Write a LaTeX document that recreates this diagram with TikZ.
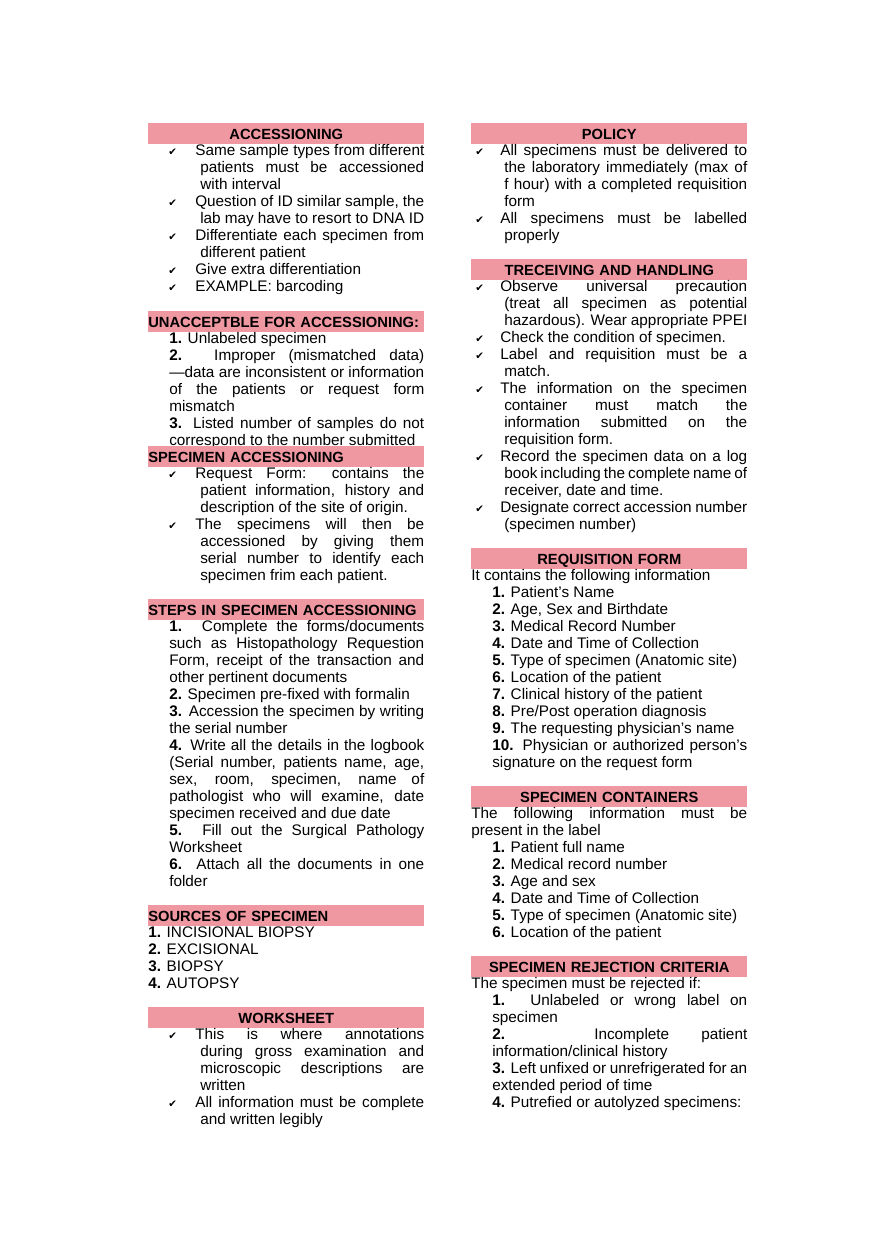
\documentclass[tikz,border=0pt]{standalone}
\usepackage{fontspec}
\setmainfont{Liberation Sans}
\newfontfamily\symfont{DejaVu Sans}
\usetikzlibrary{positioning}
\newdimen\pxu \pxu=0.023864cm
\definecolor{barpink}{RGB}{240,152,162}
% check mark items, left and right column
\newcommand\ckL[1]{\noindent\hangindent=52\pxu\hangafter=1\hspace*{20\pxu}\makebox[27\pxu][l]{\symfont\scriptsize ✔}#1\par}
\newcommand\ckR[1]{\noindent\hangindent=33\pxu\hangafter=1\hspace*{4\pxu}\makebox[25\pxu][l]{\symfont\scriptsize ✔}#1\par}
% numbered items
\newcommand\numit[2]{\noindent\hangindent=21\pxu\hangafter=0\textbf{#1} #2\par}
\newcommand\plain[1]{\noindent #1\par}
\newcommand\bodyset{\fontsize{10.4pt}{17\pxu}\selectfont\tolerance=9999\emergencystretch=2em\hyphenpenalty=10000\exhyphenpenalty=10000\relax}
\tikzset{
  bar/.style={fill=barpink, inner sep=0pt, minimum height=17\pxu, text width=276\pxu,
    anchor=north west, font=\bfseries, text height=11pt, text depth=3pt},
  body/.style={anchor=north west, inner sep=0pt, text width=276\pxu, align=justify},
}
\begin{document}
\begin{tikzpicture}[x=0.023864cm, y=-0.023864cm]
\useasboundingbox[fill=white] (0,0) rectangle (880,1245);

% left column
\node[bar, align=center] (hAcc) at (148,123) {ACCESSIONING};
\node[body] (bAcc) at (hAcc.south west) {\bodyset
  \ckL{Same sample types from different patients must be accessioned with interval}
  \ckL{Question of ID similar sample, the lab may have to resort to DNA ID}
  \ckL{Differentiate each specimen from different patient}
  \ckL{Give extra differentiation}
  \ckL{EXAMPLE: barcoding}};

\node[bar, align=left] (hUna) at (148,311) {UNACCEPTBLE FOR ACCESSIONING:};
\node[body] (bUna) at (hUna.south west) {\bodyset
  \numit{1.}{Unlabeled specimen}
  \numit{2.}{Improper (mismatched data) —data are inconsistent or information of the patients or request form mismatch}
  \numit{3.}{Listed number of samples do not correspond to the number submitted}};

\node[bar, align=left] (hSpa) at (148,446) {SPECIMEN ACCESSIONING};
\node[body] (bSpa) at (hSpa.south west) {\bodyset
  \ckL{Request Form: contains the patient information, history and description of the site of origin.}
  \ckL{The specimens will then be accessioned by giving them serial number to identify each specimen frim each patient.}};

\node[bar, align=left] (hSteps) at (148,599) {STEPS IN SPECIMEN ACCESSIONING};
\node[body] (bSteps) at (hSteps.south west) {\bodyset
  \numit{1.}{Complete the forms/documents such as Histopathology Requestion Form, receipt of the transaction and other pertinent documents}
  \numit{2.}{Specimen pre-fixed with formalin}
  \numit{3.}{Accession the specimen by writing the serial number}
  \numit{4.}{Write all the details in the logbook (Serial number, patients name, age, sex, room, specimen, name of pathologist who will examine, date specimen received and due date}
  \numit{5.}{Fill out the Surgical Pathology Worksheet}
  \numit{6.}{Attach all the documents in one folder}};

\node[bar, align=left] (hSrc) at (148,905) {SOURCES OF SPECIMEN};
\node[body] (bSrc) at (hSrc.south west) {\bodyset
  \plain{\textbf{1.} INCISIONAL BIOPSY}
  \plain{\textbf{2.} EXCISIONAL}
  \plain{\textbf{3.} BIOPSY}
  \plain{\textbf{4.} AUTOPSY}};

\node[bar, align=center] (hWork) at (148,1007) {WORKSHEET};
\node[body] (bWork) at (hWork.south west) {\bodyset
  \ckL{This is where annotations during gross examination and microscopic descriptions are written}
  \ckL{All information must be complete and written legibly}};

% right column
\node[bar, align=center] (hPol) at (471,123) {POLICY};
\node[body] (bPol) at (hPol.south west) {\bodyset
  \ckR{All specimens must be delivered to the laboratory immediately (max of f hour) with a completed requisition form}
  \ckR{All specimens must be labelled properly}};

\node[bar, align=center] (hRec) at (471,259) {TRECEIVING AND HANDLING};
\node[body] (bRec) at (hRec.south west) {\bodyset
  \ckR{Observe universal precaution (treat all specimen as potential hazardous). Wear appropriate PPEI}
  \ckR{Check the condition of specimen.}
  \ckR{Label and requisition must be a match.}
  \ckR{The information on the specimen container must match the information submitted on the requisition form.}
  \ckR{Record the specimen data on a log book including the complete name of receiver, date and time.}
  \ckR{Designate correct accession number (specimen number)}};

\node[bar, align=center] (hReq) at (471,548) {REQUISITION FORM};
\node[body] (bReq) at (hReq.south west) {\bodyset
  \plain{It contains the following information}
  \numit{1.}{Patient's Name}
  \numit{2.}{Age, Sex and Birthdate}
  \numit{3.}{Medical Record Number}
  \numit{4.}{Date and Time of Collection}
  \numit{5.}{Type of specimen (Anatomic site)}
  \numit{6.}{Location of the patient}
  \numit{7.}{Clinical history of the patient}
  \numit{8.}{Pre/Post operation diagnosis}
  \numit{9.}{The requesting physician's name}
  \numit{10.}{Physician or authorized person's signature on the request form}};

\node[bar, align=center] (hCon) at (471,786) {SPECIMEN CONTAINERS};
\node[body] (bCon) at (hCon.south west) {\bodyset
  \plain{The following information must be present in the label}
  \numit{1.}{Patient full name}
  \numit{2.}{Medical record number}
  \numit{3.}{Age and sex}
  \numit{4.}{Date and Time of Collection}
  \numit{5.}{Type of specimen (Anatomic site)}
  \numit{6.}{Location of the patient}};

\node[bar, align=center] (hRej) at (471,956) {SPECIMEN REJECTION CRITERIA};
\node[body] (bRej) at (hRej.south west) {\bodyset
  \plain{The specimen must be rejected if:}
  \numit{1.}{Unlabeled or wrong label on specimen}
  \numit{2.}{Incomplete patient information/clinical history}
  \numit{3.}{Left unfixed or unrefrigerated for an extended period of time}
  \numit{4.}{Putrefied or autolyzed specimens:}};
\end{tikzpicture}
\end{document}
